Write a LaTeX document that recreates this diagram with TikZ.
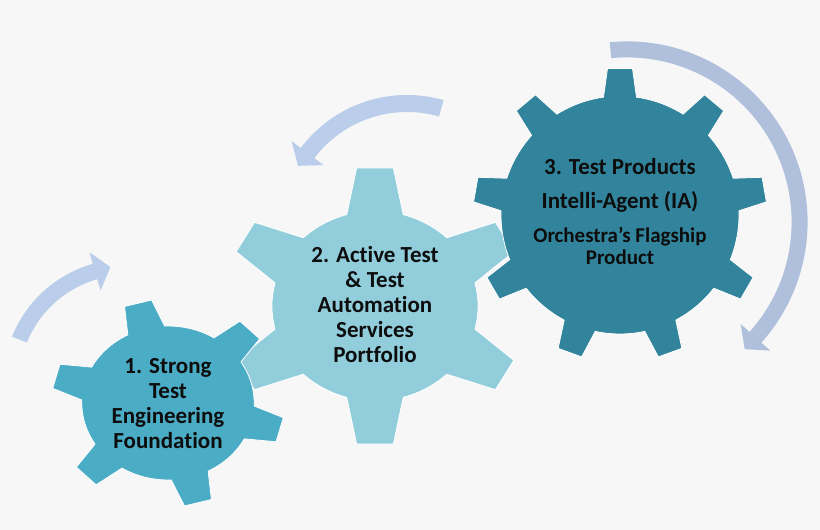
\documentclass[tikz,border=0pt]{standalone}
\usepackage{fontspec}
\setmainfont{Carlito}[Ligatures={NoCommon}]
\definecolor{bgc}{RGB}{247,247,247}
\definecolor{gearA}{RGB}{75,172,198}
\definecolor{gearB}{RGB}{146,205,220}
\definecolor{gearC}{RGB}{49,132,155}
\definecolor{arrAB}{RGB}{186,205,234}
\definecolor{arrC}{RGB}{176,192,220}
\definecolor{txtc}{RGB}{13,13,13}
% #1 center, #2 xscale, #3 teeth, #4 start angle, #5 body radius, #6 tip radius, #7 base half-angle, #8 tip half-angle, #9 colour
\newcommand{\drawgear}[9]{%
  \begin{scope}[shift={#1}, xscale=#2]
    \pgfmathsetmacro\gs{360/#3}
    \pgfmathtruncatemacro\gn{#3-1}
    \fill[#9, draw=white, line width=0.8pt] ({#4-#7}:#5)
      \foreach[evaluate=\k as \a using #4+\k*\gs] \k in {0,...,\gn}{
        -- ({\a-#7}:#5) -- ({\a-#8}:#6) -- ({\a+#8}:#6) -- ({\a+#7}:#5)
        arc[start angle={\a+#7}, end angle={\a+\gs-#7}, radius=#5]
      } -- cycle;
  \end{scope}}
% #1 center, #2 mid radius, #3 start angle, #4 end angle, #5 half band, #6 half head, #7 tip angle, #8 tip radius, #9 colour
\newcommand{\drawarc}[9]{%
  \begin{scope}[shift={#1}]
    \pgfmathsetmacro\ro{#2+#5}
    \pgfmathsetmacro\ri{#2-#5}
    \pgfmathsetmacro\ho{#2+#6}
    \pgfmathsetmacro\hi{#2-#6}
    \fill[#9] (#3:\ro) arc[start angle=#3, end angle=#4, radius=\ro]
      -- (#4:\ho) -- (#7:#8) -- (#4:\hi) -- (#4:\ri)
      arc[start angle=#4, end angle=#3, radius=\ri] -- cycle;
  \end{scope}}
\begin{document}
\begin{tikzpicture}[x=1pt, y=1pt,
  gtext/.style={text=txtc, align=center, inner sep=0pt, font=\bfseries\fontsize{23}{25}\selectfont},
  gsmall/.style={text=txtc, align=center, inner sep=0pt, font=\bfseries\fontsize{21}{22}\selectfont}]
  \useasboundingbox (0,0) rectangle (820,530);
  \fill[bgc] (0,0) rectangle (820,530);
  % centres
  \coordinate (c1) at (168,127);
  \coordinate (c2) at (375,224);
  \coordinate (c3) at (620,315);
  % gears
  \drawgear{(c2)}{1.085}{6}{30}{95}{139}{15.9}{7.0}{gearB}
  \drawgear{(c1)}{1.12}{6}{45}{77}{104}{12.75}{6.9}{gearA}
  \drawgear{(c3)}{1}{9}{90}{119}{147}{7.97}{4.88}{gearC}
  % arrows
  \coordinate (a1) at (127,147);
  \coordinate (a2) at (407,302);
  \coordinate (a3) at (627,308);
  \drawarc{(a1)}{116}{158}{106}{8}{20}{98.15}{117.1}{arrAB}
  \drawarc{(a2)}{124.5}{74}{143}{8.5}{20}{150.3}{125.5}{arrAB}
  \drawarc{(a3)}{172.6}{95.5}{-41.9}{8}{20}{-47.2}{173.3}{arrC}
  % texts
  \node[gtext] (t1) at (168,126) {1. Strong\\Test\\Engineering\\Foundation};
  \node[gtext] (t2) at (375,225) {2. Active Test\\\& Test\\Automation\\Services\\Portfolio};
  \node[gtext] (t3a) at (620,363) {3. Test Products};
  \node[gtext] (t3b) at (620,328) {Intelli-Agent (IA)};
  \node[gsmall] (t3c) at (620,284) {Orchestra’s Flagship\\Product};
\end{tikzpicture}
\end{document}
